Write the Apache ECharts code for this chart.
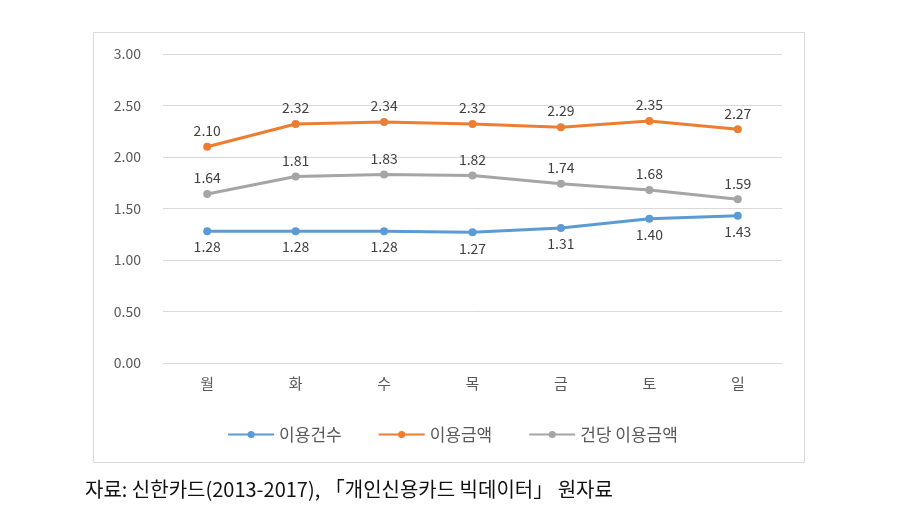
<!DOCTYPE html>
<html><head><meta charset="utf-8">
<script src="https://cdn.jsdelivr.net/npm/echarts@6/dist/echarts.min.js"></script>
<style>html,body{margin:0;padding:0;background:#fff}#c{width:905px;height:510px}</style>
</head><body><div id="c"></div>
<script>
const categories = ['월','화','수','목','금','토','일'];
const countSeries = [1.28,1.28,1.28,1.27,1.31,1.40,1.43];
const amountSeries = [2.10,2.32,2.34,2.32,2.29,2.35,2.27];
const perSeries = [1.64,1.81,1.83,1.82,1.74,1.68,1.59];
const seriesNames = ['이용건수','이용금액','건당 이용금액'];
const sourceText = '자료: 신한카드(2013-2017), 「개인신용카드 빅데이터」 원자료';

const font = '"Noto Sans CJK KR", "Noto Sans", sans-serif';
const chart = echarts.init(document.getElementById('c'), null, {renderer:'canvas'});
function mk(name, data, color, pos){
  return {name, type:'line', data, color, symbol:'circle', symbolSize:8,
    lineStyle:{width:3, color}, itemStyle:{color},
    label:{show:true, position:pos, distance:5, formatter:p=>p.value.toFixed(2),
      color:'#404040', fontSize:14, fontFamily:font}};
}
chart.setOption({
  animation:false,
  textStyle:{fontFamily:font},
  grid:{left:163, right:123, top:54, bottom:147},
  xAxis:{type:'category', data:categories, boundaryGap:true,
    axisLine:{show:true, lineStyle:{color:'#d9d9d9'}}, axisTick:{show:false},
    axisLabel:{color:'#595959', fontSize:15, margin:13, fontFamily:font}},
  yAxis:{type:'value', min:0, max:3, interval:0.5,
    axisLine:{show:false}, axisTick:{show:false},
    splitLine:{lineStyle:{color:'#d9d9d9'}},
    axisLabel:{color:'#595959', fontSize:14, margin:22, formatter:v=>v.toFixed(2), fontFamily:font}},
  legend:{bottom:62, left:'center', itemWidth:46, itemHeight:9, itemGap:36,
    textStyle:{color:'#595959', fontSize:17, fontFamily:font},
    data:seriesNames},
  series:[
    mk(seriesNames[0], countSeries, '#5B9BD5', 'bottom'),
    mk(seriesNames[1], amountSeries, '#ED7D31', 'top'),
    mk(seriesNames[2], perSeries, '#A5A5A5', 'top')
  ],
  graphic:[
    {type:'rect', shape:{x:93.5, y:32.5, width:711, height:430}, style:{fill:null, stroke:'#d9d9d9', lineWidth:1}, silent:true, z:-1},
    {type:'text', left:85, top:479, style:{text:sourceText, font:'20px "Noto Sans CJK KR"', fill:'#111'}}
  ]
});
</script></body></html>
